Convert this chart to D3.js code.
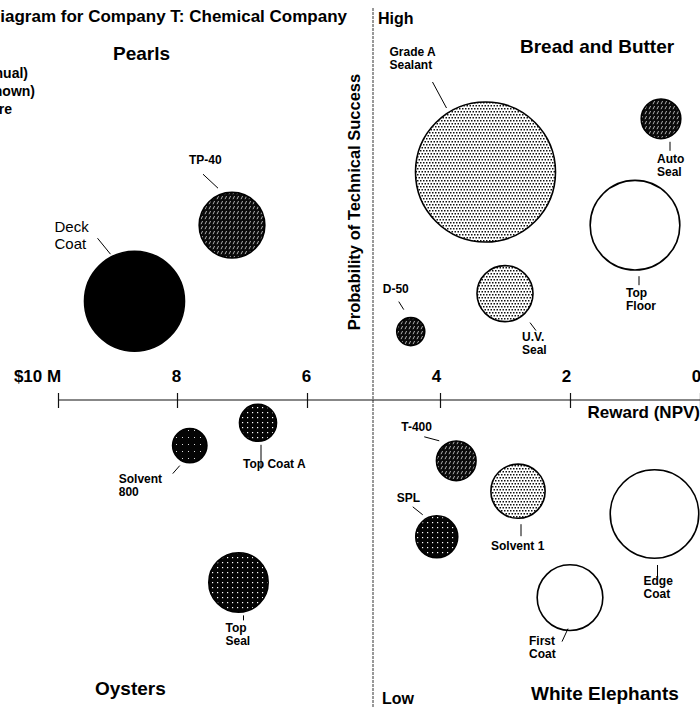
<!DOCTYPE html>
<html>
<head>
<meta charset="utf-8">
<script src="https://cdn.jsdelivr.net/npm/d3@7"></script>
<style>
  body { margin: 0; background: #fff; }
  svg { display: block; font-family: "Liberation Sans", Arial, Helvetica, sans-serif; }
</style>
</head>
<body>
<svg id="chart" width="700" height="707"></svg>
<script>
// Project portfolio: reward (NPV, $M), probability of technical success,
// annual resources (bubble area) and timing shade.
const projects    = ["Deck Coat", "TP-40", "Grade A Sealant", "Auto Seal", "Top Floor", "U.V. Seal", "D-50",
                     "Solvent 800", "Top Coat A", "Top Seal", "T-400", "Solvent 1", "SPL", "Edge Coat", "First Coat"];
const reward      = [8.7, 7.2, 3.3, 0.6, 1.0, 3.0, 4.45, 7.85, 6.8, 7.1, 3.75, 2.8, 4.05, 0.7, 2.0];
const probability = [0.63, 0.73, 0.80, 0.87, 0.73, 0.64, 0.59, 0.44, 0.47, 0.26, 0.42, 0.38, 0.32, 0.35, 0.24];
const resources   = [51, 22, 100, 8, 41, 16, 4, 6, 7, 18, 8, 15, 9, 40, 22];
const timing      = ["solid", "hatch", "light", "hatch", "white", "light", "hatch",
                     "speck", "grid", "grid", "hatch", "light", "grid", "white", "white"];
const rewardTicks = [10, 8, 6, 4, 2, 0];
const quadrantNames = ["Pearls", "Bread and Butter", "Oysters", "White Elephants"];
const legendLines = ["Size of circle = Resources (annual)", "Shading = Timing (key not shown)", "Black = Now; White = Future"];

const svg = d3.select("#chart");
const W = 700, H = 707;

// Scales
const x = d3.scaleLinear().domain([10, 0]).range([50, 700]);
const y = d3.scaleLinear().domain([0, 1]).range([780, 20]);
const r = d3.scaleSqrt().domain([0, 100]).range([0, 70]);
const axisY = y(0.5);          // reward axis crosses at mid probability
const axisX = x(5);            // probability axis crosses at $5M

// Fill patterns for the timing shades
const defs = svg.append("defs");
const pLight = defs.append("pattern").attr("id", "light").attr("patternUnits", "userSpaceOnUse")
  .attr("width", 3).attr("height", 6);
pLight.append("rect").attr("width", 3).attr("height", 6).attr("fill", "#fff");
pLight.append("rect").attr("x", 0).attr("y", 0).attr("width", 1.5).attr("height", 1.5).attr("fill", "#111");
pLight.append("rect").attr("x", 1.5).attr("y", 3).attr("width", 1.5).attr("height", 1.5).attr("fill", "#111");

const pHatch = defs.append("pattern").attr("id", "hatch").attr("patternUnits", "userSpaceOnUse")
  .attr("width", 4).attr("height", 5);
pHatch.append("rect").attr("width", 4).attr("height", 5).attr("fill", "#0a0a0a");
pHatch.append("line").attr("x1", 1).attr("y1", 4.2).attr("x2", 2.6).attr("y2", 1)
  .attr("stroke", "#fff").attr("stroke-width", 0.8).attr("stroke-opacity", 0.85);

const pGrid = defs.append("pattern").attr("id", "grid").attr("patternUnits", "userSpaceOnUse")
  .attr("width", 5).attr("height", 5);
pGrid.append("rect").attr("width", 5).attr("height", 5).attr("fill", "#050505");
pGrid.append("rect").attr("x", 2).attr("y", 2).attr("width", 1.2).attr("height", 1.2).attr("fill", "#fff");

const pSpeck = defs.append("pattern").attr("id", "speck").attr("patternUnits", "userSpaceOnUse")
  .attr("width", 6).attr("height", 7);
pSpeck.append("rect").attr("width", 6).attr("height", 7).attr("fill", "#050505");
pSpeck.append("rect").attr("x", 2).attr("y", 3).attr("width", 1).attr("height", 1).attr("fill", "#ddd");

const fillFor = t => ({ solid: "#000", white: "#fff", light: "url(#light)", hatch: "url(#hatch)",
                        grid: "url(#grid)", speck: "url(#speck)" })[t];

// Title and legend (run off the left edge)
svg.append("text").attr("x", 347).attr("y", 22).attr("text-anchor", "end")
  .attr("font-size", 17).attr("font-weight", "bold")
  .text("Risk-Reward Bubble Diagram for Company T: Chemical Company");

const legendEnds = [28, 35, 12];
svg.append("g").selectAll("text").data(legendLines).join("text")
  .attr("x", (d, i) => legendEnds[i]).attr("y", (d, i) => 78 + i * 18)
  .attr("text-anchor", "end").attr("font-size", 14).attr("font-weight", "bold")
  .text(d => d);

// Quadrant names
const quadPos = { "Pearls": [113, 60], "Bread and Butter": [520, 53], "Oysters": [95, 695], "White Elephants": [531, 700] };
svg.append("g").selectAll("text").data(quadrantNames).join("text")
  .attr("x", d => quadPos[d][0]).attr("y", d => quadPos[d][1])
  .attr("font-size", 19).attr("font-weight", "bold").text(d => d);

// Probability axis
svg.append("line").attr("x1", axisX - 2).attr("x2", axisX - 2).attr("y1", 8).attr("y2", H)
  .attr("stroke", "#333").attr("stroke-width", 1).attr("stroke-dasharray", "3,1");
svg.append("text").attr("x", 378).attr("y", 24).attr("font-size", 16).attr("font-weight", "bold").text("High");
svg.append("text").attr("x", 382).attr("y", 704).attr("font-size", 16).attr("font-weight", "bold").text("Low");
svg.append("text")
  .attr("transform", `translate(360,202) rotate(-90)`)
  .attr("text-anchor", "middle").attr("font-size", 16.5).attr("font-weight", "bold")
  .text("Probability of Technical Success");

// Reward axis
const xAxis = d3.axisBottom(x).tickValues(rewardTicks).tickSizeOuter(0).tickSize(8)
  .tickFormat(d => d === 10 ? "$10 M" : d);
const gx = svg.append("g").attr("transform", `translate(0,${axisY})`).call(xAxis);
gx.select(".domain").attr("stroke", "#111").attr("stroke-width", 1.2)
  .attr("d", `M${x(10) + 8},0H${x(0)}`);
gx.selectAll(".tick line").attr("y1", -7).attr("y2", 8).attr("stroke", "#111").attr("stroke-width", 1.2)
  .attr("transform", d => d === 10 ? "translate(8,0)" : d === 8 || d === 6 ? "translate(-3,0)" : null);
gx.selectAll(".tick text")
  .attr("y", -18).attr("dy", 0).attr("dx", d => d === 10 ? -13 : -4)
  .attr("font-size", 17).attr("font-weight", "bold").attr("fill", "#000")
  .attr("font-family", "Liberation Sans, Arial, sans-serif");
svg.append("text").attr("x", 700).attr("y", 418).attr("text-anchor", "end")
  .attr("font-size", 17).attr("font-weight", "bold").text("Reward (NPV)");

// Bubbles
const data = projects.map((name, i) => ({ name, reward: reward[i], prob: probability[i], res: resources[i], shade: timing[i] }));
svg.append("g").selectAll("circle").data(data).join("circle")
  .attr("cx", d => x(d.reward)).attr("cy", d => y(d.prob)).attr("r", d => r(d.res))
  .attr("fill", d => fillFor(d.shade))
  .attr("stroke", "#000").attr("stroke-width", 1.6);

// Project labels with leader lines (offsets relative to each bubble centre)
const labelLayout = {
  "Deck Coat":       { lines: ["Deck", "Coat"], dx: -80, dy: -69, lh: 17, lead: [-37, -63, -24, -47], big: true },
  "TP-40":           { lines: ["TP-40"], dx: -43, dy: -61, lead: [-29, -51, -14, -37] },
  "Grade A Sealant": { lines: ["Grade A", "Sealant"], dx: -96, dy: -116, lead: [-53, -90, -39, -64] },
  "Auto Seal":       { lines: ["Auto", "Seal"], dx: -4, dy: 44, lead: [9, 23, 9, 32] },
  "Top Floor":       { lines: ["Top", "Floor"], dx: -9, dy: 72, lead: [4, 51, 4, 60] },
  "U.V. Seal":       { lines: ["U.V.", "Seal"], dx: 17, dy: 47, lead: [25, 29, 31, 37] },
  "D-50":            { lines: ["D-50"], dx: -28, dy: -39, lead: [-12, -30, -7, -22] },
  "Solvent 800":     { lines: ["Solvent", "800"], dx: -71, dy: 37, lead: [-17, 28, -10, 20] },
  "Top Coat A":      { lines: ["Top Coat A"], dx: -15, dy: 45, lead: [3, 22, 3, 46] },
  "Top Seal":        { lines: ["Top", "Seal"], dx: -13, dy: 50, lead: [5, 33, 5, 38] },
  "T-400":           { lines: ["T-400"], dx: -55, dy: -30, lead: [-32, -24, -17, -20] },
  "Solvent 1":       { lines: ["Solvent 1"], dx: -27, dy: 59, lead: [3, 33, 3, 45] },
  "SPL":             { lines: ["SPL"], dx: -40, dy: -35, lead: [-24, -30, -14, -22] },
  "Edge Coat":       { lines: ["Edge", "Coat"], dx: -11, dy: 71, lead: [3, 51, 3, 63] },
  "First Coat":      { lines: ["First", "Coat"], dx: -41, dy: 47, lead: [-2, 31, -8, 44] }
};

const lab = svg.append("g").selectAll("g").data(data).join("g")
  .attr("transform", d => `translate(${x(d.reward)},${y(d.prob)})`);
lab.append("line")
  .attr("x1", d => labelLayout[d.name].lead[0]).attr("y1", d => labelLayout[d.name].lead[1])
  .attr("x2", d => labelLayout[d.name].lead[2]).attr("y2", d => labelLayout[d.name].lead[3])
  .attr("stroke", "#000").attr("stroke-width", 1);
lab.append("text")
  .attr("font-size", d => labelLayout[d.name].big ? 15 : 12)
  .attr("font-weight", d => labelLayout[d.name].big ? "normal" : "bold")
  .each(function (d) {
    const L = labelLayout[d.name];
    const lh = L.lh || 13;
    d3.select(this).selectAll("tspan").data(L.lines).join("tspan")
      .attr("x", L.dx).attr("y", (t, i) => L.dy + i * lh).text(t => t);
  });
</script>
</body>
</html>
